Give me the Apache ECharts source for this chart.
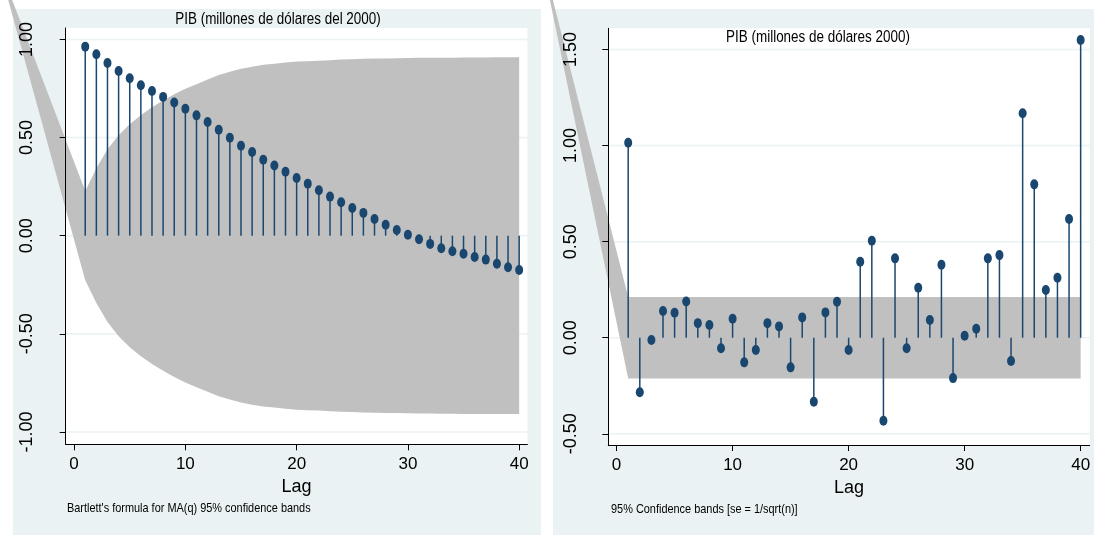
<!DOCTYPE html>
<html>
<head>
<meta charset="utf-8">
<script src="https://cdn.jsdelivr.net/npm/echarts@6/dist/echarts.min.js"></script>
<style>
  html, body { margin: 0; padding: 0; background: #fff; }
  #chart { width: 1094px; height: 535px; }
</style>
</head>
<body>
<div id="chart"></div>
<script>
// lags shown on both correlograms
var lags = [1, 2, 3, 4, 5, 6, 7, 8, 9, 10, 11, 12, 13, 14, 15, 16, 17, 18, 19, 20,
  21, 22, 23, 24, 25, 26, 27, 28, 29, 30, 31, 32, 33, 34, 35, 36, 37, 38, 39, 40]

// autocorrelations (left)
var acfValues = [0.963, 0.924, 0.880, 0.839, 0.802, 0.766, 0.737, 0.707, 0.678, 0.647,
  0.613, 0.579, 0.540, 0.499, 0.458, 0.426, 0.387, 0.357, 0.326, 0.294,
  0.265, 0.231, 0.199, 0.170, 0.141, 0.116, 0.085, 0.056, 0.029, 0.005,
  -0.018, -0.042, -0.064, -0.079, -0.092, -0.109, -0.122, -0.143, -0.161, -0.175]
// half width of the Bartlett band at each lag
var acfBand = [0.227, 0.343, 0.440, 0.512, 0.568, 0.614, 0.654, 0.688, 0.720, 0.748,
  0.772, 0.795, 0.818, 0.835, 0.850, 0.861, 0.871, 0.876, 0.882, 0.887,
  0.889, 0.891, 0.894, 0.897, 0.899, 0.901, 0.902, 0.903, 0.904, 0.905,
  0.906, 0.906, 0.907, 0.907, 0.908, 0.908, 0.908, 0.909, 0.909, 0.909]
// the stray point the band polygon starts from (off the plot, top left)
var acfApex = [-6.84, 1.39]

// partial autocorrelations (right)
var pacfValues = [1.015, -0.284, -0.012, 0.139, 0.130, 0.189, 0.076, 0.066, -0.055, 0.099,
  -0.128, -0.064, 0.076, 0.059, -0.154, 0.106, -0.333, 0.132, 0.187, -0.064,
  0.395, 0.505, -0.432, 0.413, -0.055, 0.260, 0.092, 0.380, -0.210, 0.010,
  0.047, 0.413, 0.430, -0.121, 1.168, 0.798, 0.248, 0.312, 0.618, 1.549]
var pacfBand = 0.212
var pacfApex = [-6.89, 2.09]

var xTicks = [0, 10, 20, 30, 40]
var acfTicks = [-1, -0.5, 0, 0.5, 1]
var pacfTicks = [-0.5, 0, 0.5, 1, 1.5]

var acfTitle = 'PIB (millones de dólares del 2000)'
var pacfTitle = 'PIB (millones de dólares 2000)'
var acfNote = "Bartlett's formula for MA(q) 95% confidence bands"
var pacfNote = '95% Confidence bands [se = 1/sqrt(n)]'

var navy = '#1a476f'
var bandColor = '#c0c0c0'
var panelColor = '#eaf2f3'
var font = '"Liberation Sans", Arial, sans-serif'
var squeeze = 0.84 // no narrow font installed, so squeeze the text instead

var acfPoly = [acfApex]
  .concat(lags.map(function (l, i) { return [l, acfBand[i]] }))
  .concat(lags.map(function (l, i) { return [l, -acfBand[i]] }).reverse())
var first = lags[0]
var last = lags[lags.length - 1]
var pacfPoly = [pacfApex, [first, pacfBand], [last, pacfBand], [last, -pacfBand], [first, -pacfBand]]

function pairs (values) {
  return lags.map(function (l, i) { return [l, values[i]] })
}

// horizontal grid lines, kept under the band
function gridSeries (idx, ticks) {
  return {
    type: 'custom',
    xAxisIndex: idx,
    yAxisIndex: idx,
    silent: true,
    z: 0,
    data: ticks.map(function (t) { return [0, t] }),
    renderItem: function (params, api) {
      var cs = params.coordSys
      var y = api.coord([0, api.value(1)])[1]
      return {
        type: 'line',
        shape: { x1: cs.x, y1: y, x2: cs.x + cs.width, y2: y },
        style: { stroke: panelColor, lineWidth: 1.5 }
      }
    }
  }
}

function bandSeries (idx, poly) {
  return {
    type: 'custom',
    xAxisIndex: idx,
    yAxisIndex: idx,
    clip: false,
    silent: true,
    z: 1,
    data: [[0, 0]],
    renderItem: function (params, api) {
      return {
        type: 'polygon',
        shape: { points: poly.map(function (p) { return api.coord(p) }) },
        style: { fill: bandColor, stroke: null }
      }
    }
  }
}

function stemSeries (idx, values) {
  return {
    type: 'custom',
    xAxisIndex: idx,
    yAxisIndex: idx,
    silent: true,
    z: 2,
    data: pairs(values),
    renderItem: function (params, api) {
      var p0 = api.coord([api.value(0), 0])
      var p1 = api.coord([api.value(0), api.value(1)])
      return {
        type: 'line',
        shape: { x1: p0[0], y1: p0[1], x2: p1[0], y2: p1[1] },
        style: { stroke: navy, lineWidth: 1.5 }
      }
    }
  }
}

function dotSeries (idx, values) {
  return {
    type: 'scatter',
    xAxisIndex: idx,
    yAxisIndex: idx,
    silent: true,
    z: 3,
    symbol: 'circle',
    symbolSize: [8, 10],
    itemStyle: { color: navy, opacity: 1 },
    data: pairs(values)
  }
}

function xAxis (idx, min, max) {
  return {
    type: 'value',
    gridIndex: idx,
    min: min,
    max: max,
    z: 5,
    name: 'Lag',
    nameLocation: 'middle',
    nameGap: 29,
    nameTextStyle: { fontFamily: font, fontSize: 18, color: '#000' },
    axisLine: { show: true, onZero: false, lineStyle: { color: '#000', width: 1 } },
    axisTick: { show: true, length: 6, customValues: xTicks, lineStyle: { color: '#000' } },
    axisLabel: { customValues: xTicks, margin: 12, fontFamily: font, fontSize: 17, color: '#000' },
    splitLine: { show: false }
  }
}

function yAxis (idx, min, max, ticks, margin) {
  return {
    type: 'value',
    gridIndex: idx,
    min: min,
    max: max,
    z: 5,
    axisLine: { show: true, onZero: false, lineStyle: { color: '#000', width: 1 } },
    axisTick: { show: true, length: 6, customValues: ticks, lineStyle: { color: '#000' } },
    axisLabel: {
      customValues: ticks,
      rotate: 90,
      margin: margin,
      fontFamily: font,
      fontSize: 18,
      color: '#000',
      formatter: function (v) { return v.toFixed(2) }
    },
    splitLine: { show: false }
  }
}

function squeezedText (text, x, y, size, align) {
  return {
    type: 'text',
    x: x,
    y: y,
    scaleX: squeeze,
    silent: true,
    z: 10,
    style: { text: text, fontFamily: font, fontSize: size, fill: '#000', align: align, verticalAlign: 'middle' }
  }
}

var chart = echarts.init(document.getElementById('chart'), null, { renderer: 'canvas' })

chart.setOption({
  animation: false,
  backgroundColor: '#fff',
  graphic: {
    elements: [
      { type: 'rect', z: -10, silent: true, shape: { x: 13, y: 9, width: 528, height: 526 }, style: { fill: panelColor } },
      { type: 'rect', z: -10, silent: true, shape: { x: 553, y: 9, width: 541, height: 526 }, style: { fill: panelColor } },
      { type: 'rect', z: -9, silent: true, shape: { x: 65.7, y: 28, width: 461.7, height: 416.3 }, style: { fill: '#fff' } },
      { type: 'rect', z: -9, silent: true, shape: { x: 608.3, y: 28.3, width: 481.4, height: 416.7 }, style: { fill: '#fff' } },
      squeezedText(acfTitle, 278, 20, 16, 'center'),
      squeezedText(pacfTitle, 818, 38, 16, 'center'),
      squeezedText(acfNote, 67, 508, 13, 'left'),
      squeezedText(pacfNote, 611, 509, 13, 'left')
    ]
  },
  grid: [
    { left: 65.7, top: 28, width: 461.7, height: 416.3, containLabel: false },
    { left: 608.3, top: 28.3, width: 481.4, height: 416.7, containLabel: false }
  ],
  xAxis: [xAxis(0, -0.755, 40.74), xAxis(1, -0.715, 40.78)],
  yAxis: [yAxis(0, -1.063, 1.058, acfTicks, 30), yAxis(1, -0.558, 1.61, pacfTicks, 28)],
  series: [
    gridSeries(0, acfTicks),
    bandSeries(0, acfPoly),
    stemSeries(0, acfValues),
    dotSeries(0, acfValues),
    gridSeries(1, pacfTicks),
    bandSeries(1, pacfPoly),
    stemSeries(1, pacfValues),
    dotSeries(1, pacfValues)
  ]
})
</script>
</body>
</html>
